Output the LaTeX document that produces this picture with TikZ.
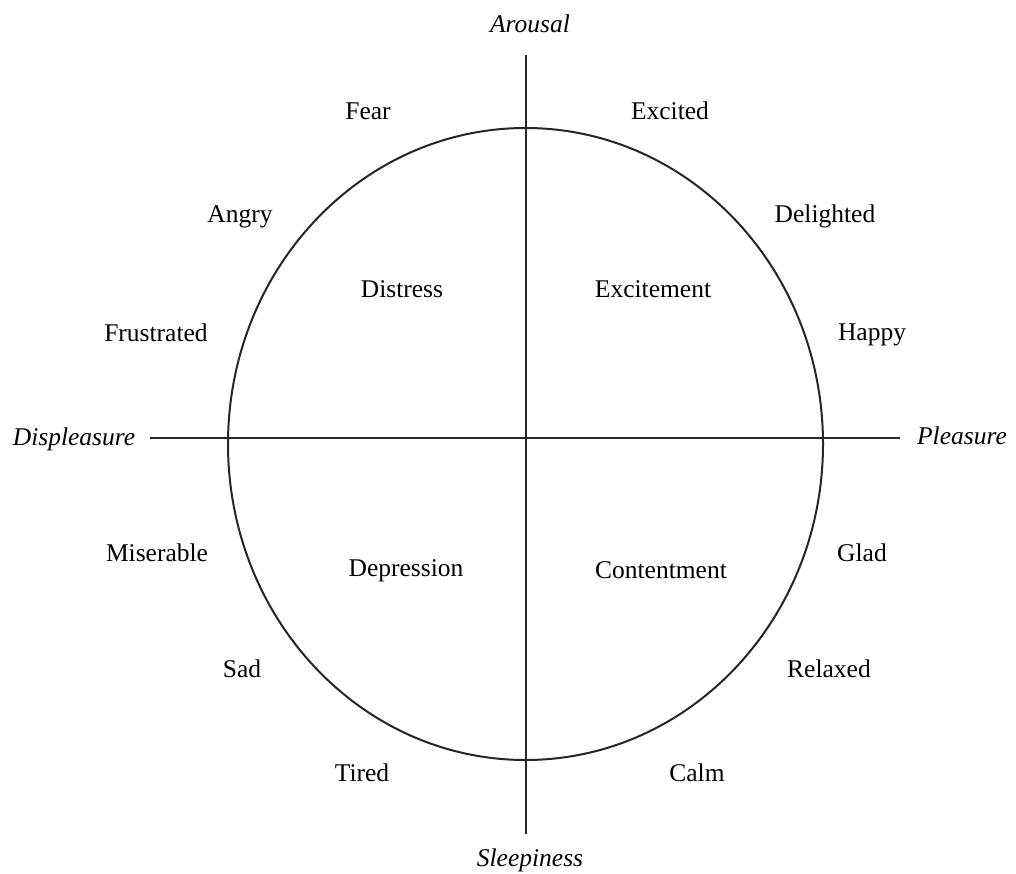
\documentclass[tikz,border=0pt]{standalone}
\usepackage{fontspec}
\setmainfont{Liberation Serif}
\begin{document}
\begin{tikzpicture}[x=1pt,y=-1pt,
  lbl/.style={font=\fontsize{25.5}{30}\selectfont, inner sep=0pt, text height=17pt, text depth=5pt},
  axl/.style={font=\fontsize{25.5}{30}\selectfont\itshape, inner sep=0pt, text height=17pt, text depth=5pt},
  lin/.style={line width=2pt, color=black!85}]
\useasboundingbox (0,0) rectangle (1016,874);
\fill[white] (0,0) rectangle (1016,874);
\coordinate (top) at (525.5,55);
\coordinate (bot) at (525.5,834);
\coordinate (lft) at (150,437.5);
\coordinate (rgt) at (900,437.5);
\draw[lin] (525.5,444) ellipse [x radius=297.5, y radius=316];
\draw[lin] (top) -- (bot);
\draw[lin] (lft) -- (rgt);
\node[axl] (arousal) at (530,27) {Arousal};
\node[axl] (sleep) at (530,860) {Sleepiness};
\node[axl] (displ) at (74,439) {Displeasure};
\node[axl] (pleas) at (962,438) {Pleasure};
\node[lbl] (fear) at (368,114) {Fear};
\node[lbl] (excited) at (670,114) {Excited};
\node[lbl] (angry) at (240,217) {Angry};
\node[lbl] (delighted) at (825,217) {Delighted};
\node[lbl] (frustrated) at (156,335) {Frustrated};
\node[lbl] (happy) at (872,334) {Happy};
\node[lbl] (distress) at (402,292) {Distress};
\node[lbl] (excitement) at (653,292) {Excitement};
\node[lbl] (miserable) at (157,555) {Miserable};
\node[lbl] (glad) at (862,555) {Glad};
\node[lbl] (depression) at (406,570) {Depression};
\node[lbl] (contentment) at (661,572) {Contentment};
\node[lbl] (sad) at (242,671) {Sad};
\node[lbl] (relaxed) at (829,671) {Relaxed};
\node[lbl] (tired) at (362,775) {Tired};
\node[lbl] (calm) at (697,775) {Calm};
\end{tikzpicture}
\end{document}
